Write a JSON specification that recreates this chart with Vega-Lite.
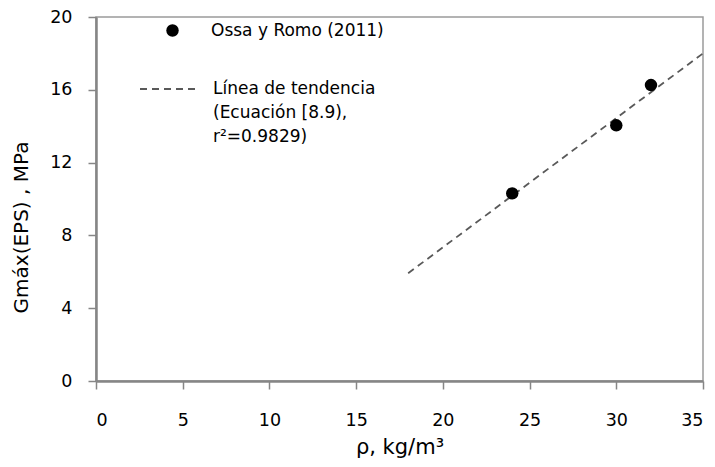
{
  "$schema": "https://vega.github.io/schema/vega-lite/v6.json",
  "width": 607,
  "height": 364,
  "autosize": "none",
  "padding": {"left": 96, "top": 17, "right": 12, "bottom": 86},
  "background": "white",
  "config": {
    "font": "DejaVu Sans",
    "view": {"stroke": "#9a9a9a", "strokeWidth": 1.5},
    "axis": {
      "grid": false,
      "domainColor": "#868686",
      "domainWidth": 2.5,
      "tickColor": "#868686",
      "tickWidth": 1.5,
      "tickSize": 8,
      "labelFont": "DejaVu Sans",
      "labelFontSize": 17.5,
      "labelColor": "#000000",
      "titleFont": "DejaVu Sans",
      "titleFontSize": 20,
      "titleFontWeight": "normal",
      "titleColor": "#000000"
    },
    "legend": {
      "labelFont": "DejaVu Sans",
      "labelFontSize": 17,
      "labelColor": "#000000",
      "labelLimit": 0
    }
  },
  "datasets": {
    "obs": [
      {"rho": 24, "G": 10.31, "serie": "Ossa y Romo (2011)"},
      {"rho": 30, "G": 14.05, "serie": "Ossa y Romo (2011)"},
      {"rho": 32, "G": 16.26, "serie": "Ossa y Romo (2011)"}
    ],
    "trend": [
      {"rho": 18, "G": 5.92, "serie": "Línea de tendencia"},
      {"rho": 35, "G": 18.0, "serie": "Línea de tendencia"}
    ]
  },
  "layer": [
    {
      "data": {"name": "trend"},
      "mark": {"type": "line", "color": "#595959", "strokeWidth": 1.8, "strokeDash": [7, 5]},
      "encoding": {
        "x": {
          "field": "rho", "type": "quantitative",
          "scale": {"domain": [0, 35], "nice": false},
          "axis": {"values": [0, 5, 10, 15, 20, 25, 30, 35], "title": "ρ, kg/m³", "labelPadding": 22, "titlePadding": 8, "titleFontSize": 21}
        },
        "y": {
          "field": "G", "type": "quantitative",
          "scale": {"domain": [0, 20], "nice": false},
          "axis": {"values": [0, 4, 8, 12, 16, 20], "title": "Gmáx(EPS) , MPa", "labelPadding": 16, "titlePadding": 18, "titleY": 210}
        },
        "strokeDash": {
          "field": "serie", "type": "nominal",
          "scale": {"domain": ["Línea de tendencia"], "range": [[7, 5]]},
          "legend": {
            "title": null,
            "orient": "none",
            "legendX": 43,
            "legendY": 41,
            "symbolType": "stroke",
            "symbolSize": 3600,
            "symbolStrokeColor": "#595959",
            "symbolStrokeWidth": 1.8,
            "labelOffset": 12,
            "labelBaseline": "middle",
            "labelExpr": "['Línea de tendencia', '(Ecuación [8.9),', '\u00a0r²=0.9829)']",
            "encode": {
              "labels": {"update": {"lineHeight": {"value": 24}}}
            }
          }
        }
      }
    },
    {
      "data": {"name": "obs"},
      "mark": {"type": "point", "filled": true, "color": "#000000", "opacity": 1, "size": 155},
      "encoding": {
        "x": {"field": "rho", "type": "quantitative"},
        "y": {"field": "G", "type": "quantitative"},
        "shape": {
          "field": "serie", "type": "nominal",
          "scale": {"domain": ["Ossa y Romo (2011)"], "range": ["circle"]},
          "legend": {
            "title": null,
            "orient": "none",
            "legendX": 68,
            "legendY": 5,
            "symbolFillColor": "#000000",
            "symbolStrokeColor": "#000000",
            "symbolOpacity": 1,
            "symbolSize": 155,
            "labelOffset": 30
          }
        }
      }
    }
  ]
}
